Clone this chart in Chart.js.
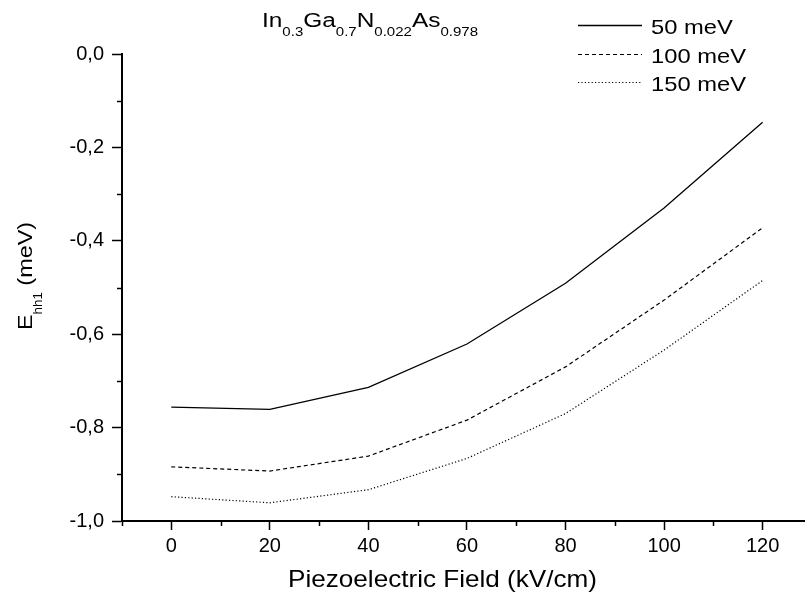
<!DOCTYPE html>
<html>
<head>
<meta charset="utf-8">
<script src="https://cdn.jsdelivr.net/npm/chart.js@4/dist/chart.umd.min.js"></script>
<style>
  html, body { margin: 0; padding: 0; background: #fff; overflow: hidden; }
  #wrap { width: 805px; height: 594px; }
</style>
</head>
<body>
<div id="wrap"><canvas id="c" width="805" height="594"></canvas></div>
<script>
// Heavy-hole ground level vs. piezoelectric field for three band offsets
const fieldKVcm = [0, 20, 40, 60, 80, 100, 120];
const ehh50  = [-0.756, -0.761, -0.714, -0.621, -0.491, -0.330, -0.146];
const ehh100 = [-0.884, -0.893, -0.861, -0.784, -0.670, -0.527, -0.372];
const ehh150 = [-0.948, -0.961, -0.933, -0.866, -0.770, -0.634, -0.485];
const seriesNames = ['50 meV', '100 meV', '150 meV'];

const xMajorTicks = [0, 20, 40, 60, 80, 100, 120];
const xMinorTicks = [-10, 10, 30, 50, 70, 90, 110];
const yMajorTicks = [0, -0.2, -0.4, -0.6, -0.8, -1.0];
const yMinorTicks = [-0.1, -0.3, -0.5, -0.7, -0.9];

const FONT = '"Liberation Sans", Arial, sans-serif';

function pts(ys) { return fieldKVcm.map((x, i) => ({ x: x, y: ys[i] })); }

const styles = [
  { borderDash: [], borderWidth: 1.3 },
  { borderDash: [4, 3], borderWidth: 1.2 },
  { borderDash: [1.2, 2.2], borderWidth: 1.2 }
];

const datasets = [ehh50, ehh100, ehh150].map((ys, i) => ({
  label: seriesNames[i],
  data: pts(ys),
  borderColor: '#000',
  borderWidth: styles[i].borderWidth,
  borderDash: styles[i].borderDash,
  pointRadius: 0,
  fill: false,
  tension: 0
}));

// Draws a run of [text, isSubscript] pieces, stretched to a given width
function drawRich(ctx, parts, x, y, width, mainSize, subSize, subShift) {
  let natural = 0;
  parts.forEach(([t, sub]) => {
    ctx.font = (sub ? subSize : mainSize) + 'px ' + FONT;
    natural += ctx.measureText(t).width;
  });
  const k = width / natural;
  ctx.save();
  ctx.translate(x, y);
  ctx.scale(k, 1);
  ctx.textAlign = 'left';
  ctx.textBaseline = 'alphabetic';
  let cx = 0;
  parts.forEach(([t, sub]) => {
    ctx.font = (sub ? subSize : mainSize) + 'px ' + FONT;
    ctx.fillText(t, cx, sub ? subShift : 0);
    cx += ctx.measureText(t).width;
  });
  ctx.restore();
}

// Extra decorations: minor ticks, sub-scripted title, axis titles, legend
const decorations = {
  id: 'decorations',
  afterDraw(chart) {
    const ctx = chart.ctx;
    const xs = chart.scales.x, ys = chart.scales.y;
    ctx.save();
    ctx.strokeStyle = '#000';
    ctx.lineWidth = 1.5;
    ctx.setLineDash([]);
    xMinorTicks.forEach(v => {
      const px = Math.round(xs.getPixelForValue(v)) + 0.5;
      ctx.beginPath(); ctx.moveTo(px, xs.top); ctx.lineTo(px, xs.top + 5); ctx.stroke();
    });
    yMinorTicks.forEach(v => {
      const py = Math.round(ys.getPixelForValue(v)) + 0.5;
      ctx.beginPath(); ctx.moveTo(ys.right, py); ctx.lineTo(ys.right - 5, py); ctx.stroke();
    });

    ctx.fillStyle = '#000';

    // Title with subscripts
    drawRich(ctx,
      [['In', 0], ['0.3', 1], ['Ga', 0], ['0.7', 1], ['N', 0], ['0.022', 1], ['As', 0], ['0.978', 1]],
      262, 27, 216, 19.5, 12, 9);

    // X axis title
    drawRich(ctx, [['Piezoelectric Field (kV/cm)', 0]], 288, 587, 309, 24, 12, 0);

    // Y axis title: E_hh1 (meV), rotated
    ctx.save();
    ctx.translate(32, 330);
    ctx.rotate(-Math.PI / 2);
    drawRich(ctx, [['E', 0], ['hh1', 1], [' (meV)', 0]], 0, 0, 108, 21, 12, 10);
    ctx.restore();

    // Legend
    chart.data.datasets.forEach((ds, i) => {
      const ly = [25, 54, 82][i];
      ctx.lineWidth = ds.borderWidth;
      ctx.setLineDash(ds.borderDash);
      ctx.beginPath(); ctx.moveTo(578, ly + 0.5); ctx.lineTo(642, ly + 0.5); ctx.stroke();
      ctx.setLineDash([]);
      ctx.font = '21px ' + FONT;
      const w = ctx.measureText(ds.label).width * 1.13;
      drawRich(ctx, [[ds.label, 0]], 651, ly + 9, w, 21, 12, 0);
    });
    ctx.restore();
  }
};

new Chart(document.getElementById('c'), {
  type: 'line',
  data: { datasets: datasets },
  options: {
    responsive: false,
    animation: false,
    devicePixelRatio: 1,
    layout: { padding: { top: 54, right: 0, bottom: 0, left: 0 } },
    plugins: { legend: { display: false }, title: { display: false }, tooltip: { enabled: false } },
    scales: {
      x: {
        type: 'linear',
        min: -10,
        max: 128.6,
        position: 'bottom',
        grid: { display: true, drawOnChartArea: false, drawTicks: true, tickLength: 9, tickWidth: 1.5, tickColor: '#000' },
        border: { display: true, color: '#000', width: 2 },
        ticks: { color: '#000', font: { family: FONT, size: 20 }, padding: 4 },
        afterBuildTicks: s => { s.ticks = xMajorTicks.map(v => ({ value: v })); },
        afterFit: s => { s.height = 73; }
      },
      y: {
        type: 'linear',
        min: -1,
        max: 0,
        grid: { display: true, drawOnChartArea: false, drawTicks: true, tickLength: 10, tickWidth: 1.5, tickColor: '#000' },
        border: { display: true, color: '#000', width: 2 },
        ticks: {
          color: '#000', font: { family: FONT, size: 20 }, padding: 8,
          callback: v => v.toFixed(1).replace('.', ',')
        },
        afterBuildTicks: s => { s.ticks = yMajorTicks.map(v => ({ value: v })); },
        afterFit: s => { s.width = 122; }
      }
    }
  },
  plugins: [decorations]
});
</script>
</body>
</html>
